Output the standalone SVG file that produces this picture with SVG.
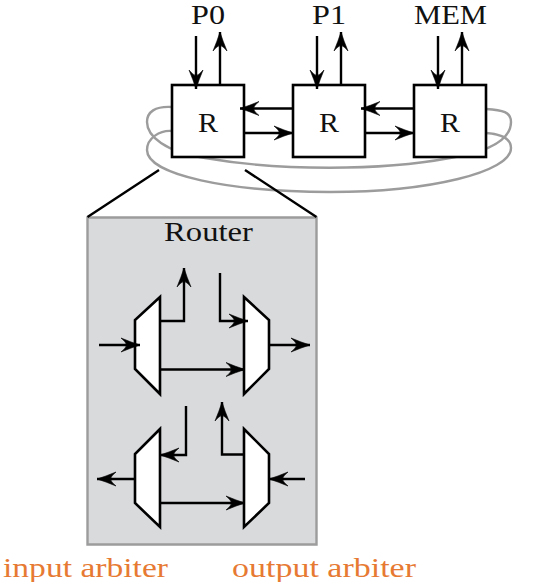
<svg xmlns="http://www.w3.org/2000/svg" width="543" height="582" viewBox="0 0 543 582">
<style>
text{font-family:"Liberation Serif","DejaVu Serif",serif;font-size:27px;fill:#111;text-anchor:start}
.o{fill:#e77a33}
.c{fill:none;stroke:#000;stroke-width:2.4}
.g{fill:none;stroke:#9c9c9c;stroke-width:2.4}
.b{fill:#fff;stroke:#000;stroke-width:2.6}
.m{fill:#fff;stroke:#000;stroke-width:2.6;stroke-linejoin:miter}
</style>
<defs>
<marker id="a" markerUnits="userSpaceOnUse" markerWidth="24" markerHeight="20" refX="20" refY="10" orient="auto" overflow="visible">
<path d="M20,10Q11,7.200 1,3Q6.500,7.500 6.500,10Q6.500,12.500 1,17Q11,12.800 20,10Z" fill="#000" stroke="#000" stroke-width=".6" stroke-linejoin="round"/>
</marker>
</defs>
<g id="loops">
<path class="g" d="M172,107C155,106 147,112 147,122C147,136 165,152 205,158C280,171 380,171 450,158C470,155 511,146 511,122C511,112 503,110 486,109"/>
<path class="g" d="M172,131C160,130 147,138 147,150C147,175 230,192 330,192C430,192 511,172 511,148C511,138 500,134 486,133"/>
</g>
<path id="zoom-panel" d="M87.500,217.500H316.500V544.500H87.500Z" fill="#d9dadc" stroke="#9c9c9c" stroke-width="2.400"/>
<g id="router-p0"><rect class="b" x="172" y="85" width="72" height="72"/><text x="198" y="132" textLength="20" lengthAdjust="spacingAndGlyphs">R</text></g>
<g id="router-p1"><rect class="b" x="293" y="85" width="72" height="72"/><text x="319" y="132" textLength="20" lengthAdjust="spacingAndGlyphs">R</text></g>
<g id="router-mem"><rect class="b" x="414" y="85" width="72" height="72"/><text x="440" y="132" textLength="20" lengthAdjust="spacingAndGlyphs">R</text></g>
<g id="label-p0"><text x="191" y="24" textLength="34" lengthAdjust="spacingAndGlyphs">P0</text></g>
<g id="label-p1"><text x="312" y="24" textLength="34" lengthAdjust="spacingAndGlyphs">P1</text></g>
<g id="label-mem"><text x="414" y="24" textLength="73" lengthAdjust="spacingAndGlyphs">MEM</text></g>
<g id="label-router"><text x="164" y="241" textLength="89" lengthAdjust="spacingAndGlyphs">Router</text></g>
<g id="label-input"><text class="o" x="3" y="577" textLength="165" lengthAdjust="spacingAndGlyphs">input arbiter</text></g>
<g id="label-output"><text class="o" x="232" y="577" textLength="184" lengthAdjust="spacingAndGlyphs">output arbiter</text></g>
<g id="mux-ul"><path class="m" d="M160,297L135,320V369L160,394Z"/></g>
<g id="mux-ur"><path class="m" d="M244,297L269,320V369L244,394Z"/></g>
<g id="mux-ll"><path class="m" d="M160,429L135,454V503L160,527Z"/></g>
<g id="mux-lr"><path class="m" d="M244,429L269,454V503L244,527Z"/></g>
<g id="connectors">
<path class="c" marker-end="url(#a)" d="M196,36V89"/>
<path class="c" marker-end="url(#a)" d="M220,84V32"/>
<path class="c" marker-end="url(#a)" d="M317,36V89"/>
<path class="c" marker-end="url(#a)" d="M341,84V32"/>
<path class="c" marker-end="url(#a)" d="M438,36V89"/>
<path class="c" marker-end="url(#a)" d="M462,84V32"/>
<path class="c" marker-end="url(#a)" d="M293,108.500H240"/>
<path class="c" marker-end="url(#a)" d="M414,108.500H361"/>
<path class="c" marker-end="url(#a)" d="M245,133H293"/>
<path class="c" marker-end="url(#a)" d="M366,133H414"/>
<path class="c" d="M159,170L87.500,217M245,170L316.500,217"/>
<path class="c" marker-end="url(#a)" d="M99,345H140"/>
<path class="c" marker-end="url(#a)" d="M161,321H184V268"/>
<path class="c" marker-end="url(#a)" d="M220,273V321H248"/>
<path class="c" marker-end="url(#a)" d="M161,369.500H245"/>
<path class="c" marker-end="url(#a)" d="M270,345H310"/>
<path class="c" marker-end="url(#a)" d="M186,406V455H160"/>
<path class="c" marker-end="url(#a)" d="M244,454.500H222V402"/>
<path class="c" marker-end="url(#a)" d="M135,479H97"/>
<path class="c" marker-end="url(#a)" d="M161,503H245"/>
<path class="c" marker-end="url(#a)" d="M305,479H269"/>
</g>
</svg>
